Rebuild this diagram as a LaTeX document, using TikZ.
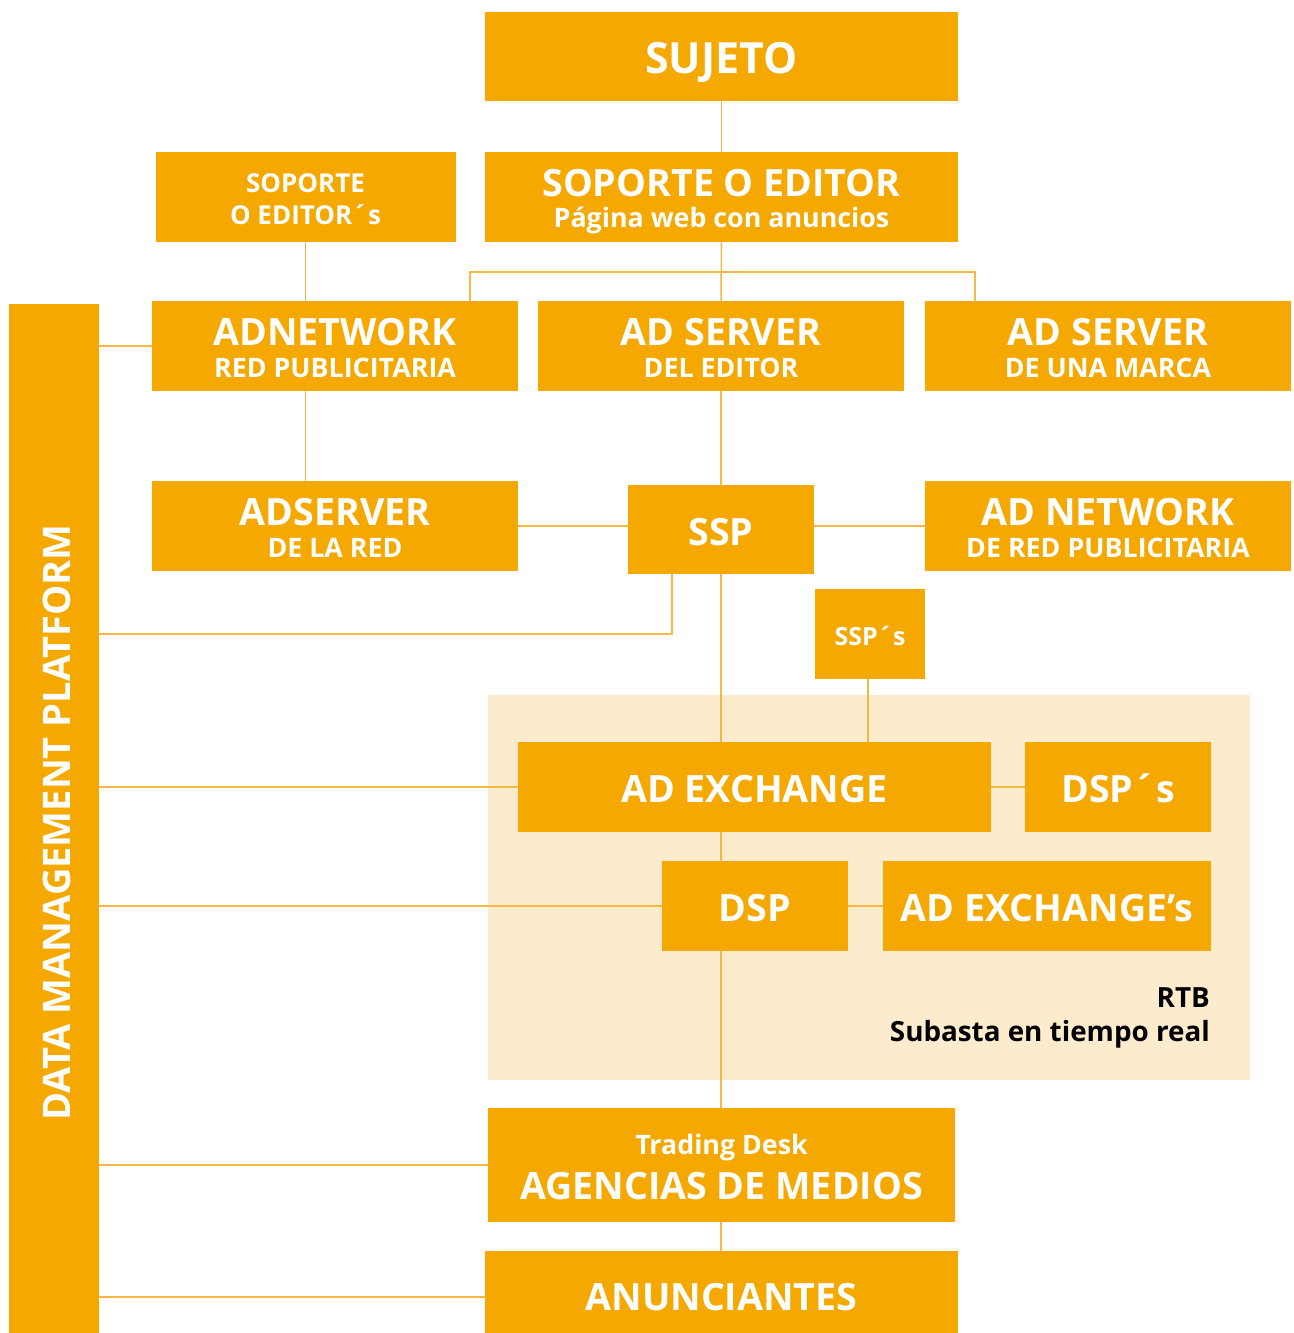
\documentclass[tikz,border=0pt]{standalone}
\usepackage{fontspec}
\setmainfont{Open Sans}
\definecolor{org}{HTML}{F4A800}
\definecolor{lne}{HTML}{F5B843}
\definecolor{pale}{HTML}{FCEBCC}
\newcommand\fsA{\fontsize{43}{48}\selectfont}
\newcommand\fsB{\fontsize{37.6}{40}\selectfont}
\newcommand\fsC{\fontsize{26.8}{30}\selectfont}
\newcommand\fsCs{\fontsize{26}{30}\selectfont}
\newcommand\fsS{\fontsize{25}{30}\selectfont}
\newcommand\fsD{\fontsize{27.8}{30}\selectfont}
\newcommand\fsE{\fontsize{38}{42}\selectfont}
\tikzset{
  box/.style={fill=org, draw=none, inner sep=0pt, outer sep=0pt},
  wt/.style={text=white, font=\bfseries, inner sep=0pt, anchor=base},
  bt/.style={text=black, font=\bfseries\fsD, inner sep=0pt, anchor=base east},
  conn/.style={draw=lne, line width=1.5pt}
}
\begin{document}
\begin{tikzpicture}[x=1pt,y=-1pt]
\useasboundingbox (0,0) rectangle (1293,1333);
% pale RTB area
\fill[pale] (488,695) rectangle (1250,1080);
% boxes
\node[box, minimum width=473pt, minimum height=89pt] (sujeto) at (721.5,56.5) {};
\node[box, minimum width=473pt, minimum height=90pt] (editor) at (721.5,197) {};
\node[box, minimum width=300pt, minimum height=90pt] (editors) at (305.5,197) {};
\node[box, minimum width=366pt, minimum height=90pt] (adnet) at (335,346) {};
\node[box, minimum width=366pt, minimum height=90pt] (adsrve) at (721,346) {};
\node[box, minimum width=366pt, minimum height=90pt] (adsrvm) at (1108,346) {};
\node[box, minimum width=366pt, minimum height=90pt] (adsrvred) at (335,526) {};
\node[box, minimum width=186pt, minimum height=89pt] (ssp) at (721,529.5) {};
\node[box, minimum width=366pt, minimum height=90pt] (adnetred) at (1108,526) {};
\node[box, minimum width=110pt, minimum height=90pt] (ssps) at (870,634) {};
\node[box, minimum width=473pt, minimum height=90pt] (adx) at (754.5,787) {};
\node[box, minimum width=186pt, minimum height=90pt] (dsps) at (1118,787) {};
\node[box, minimum width=186pt, minimum height=90pt] (dsp) at (755,906) {};
\node[box, minimum width=328pt, minimum height=90pt] (adxs) at (1047,906) {};
\node[box, minimum width=467pt, minimum height=114pt] (agencias) at (721.5,1165) {};
\node[box, minimum width=473pt, minimum height=82pt] (anun) at (721.5,1292) {};
\node[box, rotate=90, minimum width=1029pt, minimum height=90pt] (dmp) at (54,818.5) {};
% texts
\node[wt, font=\bfseries\fsA] (tsujeto) at (721.5,73) {SUJETO};
\node[wt, font=\bfseries\fsB] (teditor1) at (721.5,196) {SOPORTE O EDITOR};
\node[wt, font=\bfseries\fsC] (teditor2) at (721.5,227) {Página web con anuncios};
\node[wt, font=\bfseries\fsCs] (teditors1) at (305.5,192) {SOPORTE};
\node[wt, font=\bfseries\fsCs] (teditors2) at (305.5,224) {O EDITOR´s};
\node[wt, font=\bfseries\fsB] (tadnet1) at (335,345) {ADNETWORK};
\node[wt, font=\bfseries\fsC] (tadnet2) at (335,377) {RED PUBLICITARIA};
\node[wt, font=\bfseries\fsB] (tadsrve1) at (721,345) {AD SERVER};
\node[wt, font=\bfseries\fsC] (tadsrve2) at (721,377) {DEL EDITOR};
\node[wt, font=\bfseries\fsB] (tadsrvm1) at (1108,345) {AD SERVER};
\node[wt, font=\bfseries\fsC] (tadsrvm2) at (1108,377) {DE UNA MARCA};
\node[wt, font=\bfseries\fsB] (tadsrvred1) at (335,525) {ADSERVER};
\node[wt, font=\bfseries\fsC] (tadsrvred2) at (335,557) {DE LA RED};
\node[wt, font=\bfseries\fsB] (tssp) at (721,545) {SSP};
\node[wt, font=\bfseries\fsB] (tadnetred1) at (1108,525) {AD NETWORK};
\node[wt, font=\bfseries\fsC] (tadnetred2) at (1108,557) {DE RED PUBLICITARIA};
\node[wt, font=\bfseries\fsS] (tssps) at (870,645) {SSP´s};
\node[wt, font=\bfseries\fsB] (tadx) at (754.5,802) {AD EXCHANGE};
\node[wt, font=\bfseries\fsB] (tdsps) at (1118,802) {DSP´s};
\node[wt, font=\bfseries\fsB] (tdsp) at (755,921) {DSP};
\node[wt, font=\bfseries\fsB] (tadxs) at (1047,921) {AD EXCHANGE’s};
\node[bt] (trtb1) at (1210,1007) {RTB};
\node[bt] (trtb2) at (1210,1041) {Subasta en tiempo real};
\node[wt, font=\bfseries\fsC] (tagen1) at (721.5,1154) {Trading Desk};
\node[wt, font=\bfseries\fsB] (tagen2) at (721.5,1199) {AGENCIAS DE MEDIOS};
\node[wt, font=\bfseries\fsB] (tanun) at (721.5,1310) {ANUNCIANTES};
\node[wt, font=\bfseries\fsE, rotate=90] (tdmp) at (70,822.5) {DATA MANAGEMENT PLATFORM};
% connectors
\coordinate (fanL) at (470,272);
\coordinate (fanR) at (975,272);
\coordinate (sspturn) at (672,634);
\draw[conn] (sujeto.south) -- (editor.north);
\draw[conn] (editor.south) -- (adsrve.north);
\draw[conn] (adnet.north -| fanL) -- (fanL) -- (fanR) -- (adsrvm.north -| fanR);
\draw[conn] (editors.south) -- (editors.south |- adnet.north);
\draw[conn] (dmp.south |- adnet.west) -- (adnet.west);
\draw[conn] (editors.south |- adnet.south) -- (editors.south |- adsrvred.north);
\draw[conn] (adsrve.south) -- (ssp.north);
\draw[conn] (adsrvred.east) -- (adsrvred.east -| ssp.west);
\draw[conn] (ssp.east |- adnetred.west) -- (adnetred.west);
\draw[conn] (ssp.south -| sspturn) |- (dmp.south |- sspturn);
\draw[conn] (ssp.south) -- (ssp.south |- adx.north);
\draw[conn] (ssps.south -| 868,0) -- (adx.north -| 868,0);
\draw[conn] (dmp.south |- adx.west) -- (adx.west);
\draw[conn] (adx.east) -- (dsps.west);
\draw[conn] (adx.south -| ssp.south) -- (dsp.north -| ssp.south);
\draw[conn] (dmp.south |- dsp.west) -- (dsp.west);
\draw[conn] (dsp.east) -- (adxs.west);
\draw[conn] (dsp.south -| ssp.south) -- (agencias.north -| ssp.south);
\draw[conn] (dmp.south |- agencias.west) -- (agencias.west);
\draw[conn] (agencias.south -| ssp.south) -- (anun.north -| ssp.south);
\draw[conn] (dmp.south |- 0,1297) -- (anun.west |- 0,1297);
\end{tikzpicture}
\end{document}
